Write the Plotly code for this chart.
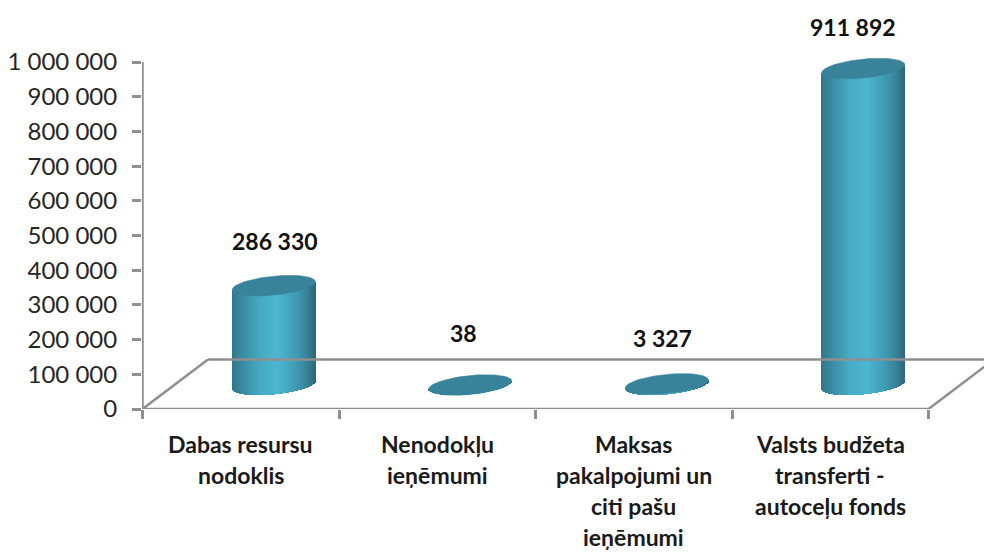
import numpy as np
import plotly.graph_objects as go

categories = [
    ["Dabas resursu", "nodoklis"],
    ["Nenodokļu", "ieņēmumi"],
    ["Maksas", "pakalpojumi un", "citi pašu", "ieņēmumi"],
    ["Valsts budžeta", "transferti -", "autoceļu fonds"],
]
values = [286330, 38, 3327, 911892]
value_labels = ["286 330", "38", "3 327", "911 892"]
y_ticks = [0, 100000, 200000, 300000, 400000, 500000, 600000, 700000, 800000, 900000, 1000000]
y_tick_labels = ["0", "100 000", "200 000", "300 000", "400 000", "500 000",
                 "600 000", "700 000", "800 000", "900 000", "1 000 000"]

# label nudges relative to the top of each cylinder (pixels)
label_dx = [1, -7, -4, -10]
label_dy = [45, 52, 46, 42]

# geometry in pixels
W, H = 984, 552
X0, Y0 = 142.5, 409.0
UX, UY = 196.5, 34.7 / 100000
px = 1 / UX
py = 1 / UY

AXIS = "#8f8f8f"
LW = 2.5
CAP = "#38829a"
stops = [(0.0, (48, 118, 140)), (0.12, (58, 138, 162)), (0.35, (72, 172, 198)),
         (0.55, (76, 182, 208)), (0.75, (66, 158, 184)), (0.9, (56, 132, 154)), (1.0, (44, 104, 124))]


def ramp(t):
    pos = [s[0] for s in stops]
    return "rgb(%d,%d,%d)" % tuple(np.interp(t, pos, [s[1][i] for s in stops]) for i in range(3))


A, B, SHEAR = 41.5, 9.5, 4.0 / 41.5
CX_OFFSET = 33.0 * px
BASE = 24.0 * py

fig = go.Figure()

# floor
fx0, fx1 = -0.5, 3.5
dxb, dyb = 65.5 * px, 49.5 * py
fig.add_trace(go.Scatter(
    x=[fx0 + dxb, fx1 + 56.5 * px + 0.3], y=[dyb, dyb], mode="lines",
    line=dict(color=AXIS, width=LW), cliponaxis=True, hoverinfo="skip"))
fig.add_trace(go.Scatter(
    x=[fx0 + dxb, fx0, fx1, fx1 + dxb], y=[dyb, 0, 0, dyb], mode="lines",
    line=dict(color=AXIS, width=LW), cliponaxis=False, hoverinfo="skip"))
fig.add_trace(go.Scatter(
    x=[fx0, fx0], y=[0, 1000000], mode="lines",
    line=dict(color=AXIS, width=LW), cliponaxis=False, hoverinfo="skip"))

# cylinder bodies, one thin bar per pixel column
offs = np.arange(-A + 0.5, A, 1.0)
bx, bb, bh, bc = [], [], [], []
for i, v in enumerate(values):
    for d in offs:
        s = B * np.sqrt(max(0.0, 1 - (d / A) ** 2)) * py
        tilt = SHEAR * d * py
        bx.append(i + CX_OFFSET + d * px)
        bb.append(BASE + tilt - s)
        bh.append(v + s)
        bc.append(ramp((d + A) / (2 * A)))
fig.add_trace(go.Bar(x=bx, y=bh, base=bb, width=1.15 * px, marker=dict(color=bc, line_width=0),
                     hoverinfo="skip"))

# cylinder caps
t = np.linspace(0, 2 * np.pi, 80)
for i, v in enumerate(values):
    fig.add_trace(go.Scatter(
        x=i + CX_OFFSET + A * np.cos(t) * px,
        y=BASE + v + (B * np.sin(t) + SHEAR * A * np.cos(t)) * py,
        mode="lines", fill="toself", fillcolor=CAP, line=dict(color=CAP, width=0.5),
        hoverinfo="skip"))

ann = []
for i, v in enumerate(values):
    ann.append(dict(x=i + CX_OFFSET, y=BASE + v, text="<b>%s</b>" % value_labels[i], showarrow=False,
                    xshift=label_dx[i], yshift=label_dy[i], yanchor="middle", xanchor="center",
                    font=dict(family="Lato", size=23, color="#111111")))
    for j, line in enumerate(categories[i]):
        ann.append(dict(x=i, y=0, text="<b>%s</b>" % line, showarrow=False,
                        yshift=-(35 + 31 * j), yanchor="middle", xanchor="center",
                        font=dict(family="Lato", size=23, color="#1a1a1a")))

fig.update_layout(
    width=W, height=H, autosize=False,
    margin=dict(l=X0 - 0.5, r=0, t=0, b=H - Y0, pad=0, autoexpand=False),
    paper_bgcolor="white", plot_bgcolor="rgba(0,0,0,0)", showlegend=False,
    bargap=0, annotations=ann, barmode="overlay",
    xaxis=dict(range=[-0.5 - 0.5 * px, -0.5 + (W - X0) * px], showgrid=False, zeroline=False,
               tickvals=[-0.5, 0.5, 1.5, 2.5, 3.5], ticktext=["", "", "", "", ""],
               ticks="outside", ticklen=9, tickwidth=LW, tickcolor=AXIS, showline=False),
    yaxis=dict(range=[0, Y0 * py], showgrid=False, zeroline=False,
               tickvals=y_ticks, ticktext=y_tick_labels, ticks="outside", ticklen=9,
               tickwidth=LW, tickcolor=AXIS, showline=False, ticklabelstandoff=10,
               tickfont=dict(family="Lato", size=24, color="#262626")),
)
fig.write_html("out.html", config=dict(displayModeBar=False),
               post_script="document.body.style.margin='0';document.documentElement.style.margin='0';")
